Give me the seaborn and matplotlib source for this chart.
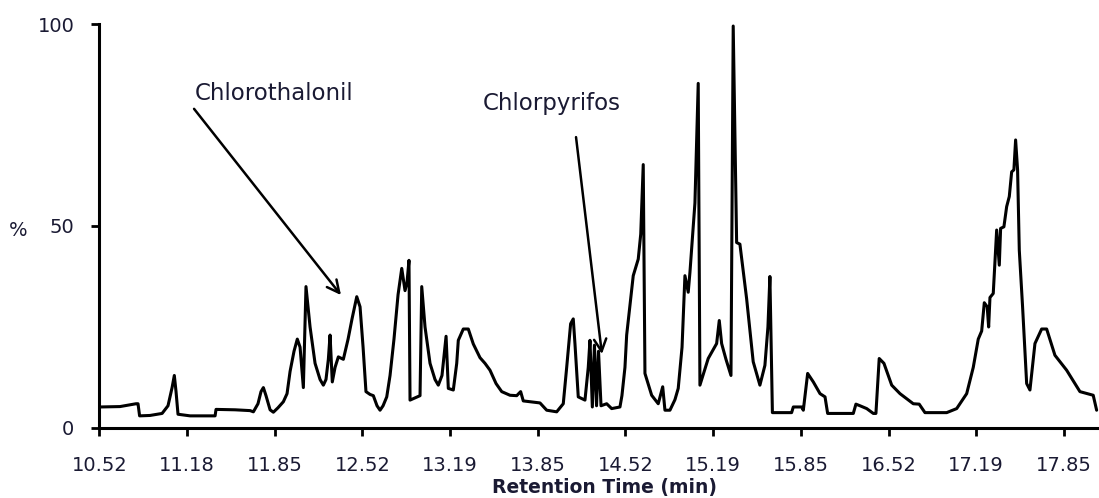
import matplotlib
matplotlib.use('Agg')
import matplotlib.pyplot as plt
import seaborn as sns
import pandas as pd

retention_time = [
    10.525, 10.677, 10.799, 10.814, 10.826, 10.905, 10.997, 11.042, 11.073, 11.090,
    11.103, 11.118, 11.210, 11.400, 11.407, 11.552, 11.666, 11.691, 11.726, 11.749,
    11.767, 11.787, 11.818, 11.843, 11.878, 11.919, 11.947, 11.970, 12.000, 12.025,
    12.046, 12.071, 12.091, 12.122, 12.160, 12.198, 12.223, 12.243, 12.261, 12.274,
    12.281, 12.291, 12.312, 12.337, 12.375, 12.411, 12.441, 12.477, 12.502, 12.525,
    12.547, 12.578, 12.603, 12.631, 12.654, 12.677, 12.705, 12.730, 12.760, 12.791,
    12.819, 12.844, 12.859, 12.874, 12.882, 12.958, 12.971, 12.996, 13.034, 13.072,
    13.097, 13.125, 13.156, 13.173, 13.211, 13.237, 13.249, 13.287, 13.325, 13.363,
    13.414, 13.452, 13.490, 13.536, 13.579, 13.642, 13.693, 13.723, 13.743, 13.870,
    13.921, 13.997, 14.047, 14.073, 14.103, 14.123, 14.136, 14.161, 14.212, 14.237,
    14.250, 14.268, 14.284, 14.300, 14.315, 14.334, 14.377, 14.415, 14.478, 14.493,
    14.516, 14.529, 14.567, 14.579, 14.617, 14.636, 14.655, 14.668, 14.719, 14.769,
    14.803, 14.820, 14.858, 14.896, 14.921, 14.950, 14.972, 14.997, 15.010, 15.048,
    15.073, 15.086, 15.149, 15.213, 15.233, 15.251, 15.284, 15.322, 15.339, 15.365,
    15.390, 15.441, 15.491, 15.542, 15.580, 15.603, 15.618, 15.637, 15.783, 15.796,
    15.859, 15.872, 15.905, 15.948, 15.999, 16.037, 16.057, 16.252, 16.272, 16.303,
    16.354, 16.404, 16.424, 16.449, 16.485, 16.544, 16.607, 16.708, 16.753, 16.797,
    16.962, 17.038, 17.114, 17.164, 17.202, 17.228, 17.248, 17.270, 17.281, 17.291,
    17.316, 17.342, 17.362, 17.372, 17.397, 17.418, 17.438, 17.456, 17.473, 17.486,
    17.501, 17.514, 17.539, 17.570, 17.595, 17.633, 17.684, 17.722, 17.785, 17.874,
    17.975, 18.076, 18.102,
]
abundance = [
    5.2, 5.3, 6.0, 6.0, 3.0, 3.1, 3.6, 5.5, 10.0, 13.0,
    9.0, 3.4, 3.0, 3.0, 4.6, 4.5, 4.3, 4.0, 6.0, 9.0,
    10.0, 8.0, 4.5, 3.9, 5.0, 6.5, 8.5, 14.0, 19.0, 22.0,
    20.0, 10.0, 35.0, 25.0, 16.0, 12.0, 10.6, 12.0, 17.0, 23.0,
    18.0, 11.4, 15.0, 17.6, 17.0, 22.0, 27.0, 32.5, 30.0, 20.0,
    9.0, 8.3, 8.0, 5.5, 4.4, 5.5, 7.7, 13.0, 22.0, 33.0,
    39.5, 34.0, 36.0, 41.5, 6.9, 8.0, 35.0, 25.0, 16.0, 12.0,
    10.6, 13.0, 22.7, 9.8, 9.4, 16.0, 21.7, 24.5, 24.5, 20.8,
    17.4, 16.0, 14.3, 11.0, 9.0, 8.1, 8.0, 9.0, 6.7, 6.2,
    4.4, 4.0, 6.0, 15.0, 25.8, 27.0, 20.8, 7.7, 6.9, 15.0,
    21.7, 5.2, 20.5, 5.5, 19.0, 5.5, 6.0, 4.8, 5.2, 8.0,
    15.0, 23.0, 34.0, 37.7, 41.8, 48.0, 65.2, 13.5, 8.1, 6.0,
    10.2, 4.4, 4.4, 7.0, 9.8, 20.0, 37.7, 33.6, 38.5, 55.7,
    85.3, 10.6, 17.2, 20.9, 26.6, 20.9, 17.0, 13.0, 99.5, 45.9,
    45.5, 32.0, 16.4, 10.6, 15.5, 25.0, 37.5, 3.8, 3.8, 5.2,
    5.2, 4.4, 13.5, 11.4, 8.5, 7.7, 3.6, 3.6, 5.9, 5.5,
    4.8, 3.6, 3.6, 17.2, 16.0, 10.6, 8.5, 6.0, 5.9, 3.8,
    3.8, 4.8, 8.5, 15.0, 22.0, 24.0, 31.0, 30.0, 25.0, 32.3,
    33.3, 49.0, 40.3, 49.4, 49.8, 54.8, 57.3, 63.4, 63.9, 71.3,
    63.9, 44.0, 30.0, 11.0, 9.4, 20.9, 24.5, 24.5, 18.0, 14.3,
    9.0, 8.1, 4.4,
]

tick_times = [10.52 + k * 2 / 3 for k in range(12)]
tick_labels = ['10.52', '11.18', '11.85', '12.52', '13.19', '13.85',
               '14.52', '15.19', '15.85', '16.52', '17.19', '17.85']

df = pd.DataFrame({'Tempo': retention_time, 'Abundancia': abundance})

sns.set_style('ticks')
plt.rcParams['font.family'] = ['DejaVu Sans']
cor_texto = '#1a1a33'

fig = plt.figure(figsize=(10.99, 4.98), dpi=100)
ax = fig.add_axes([0.0904, 0.1406, 0.9096, 0.8112])

sns.lineplot(data=df, x='Tempo', y='Abundancia', sort=False, estimator=None,
             color='black', linewidth=2.2, ax=ax)
ax.lines[0].set_solid_joinstyle('round')

ax.set_xlim(10.52, 18.12)
ax.set_ylim(0, 100)
ax.set_xticks(tick_times)
ax.set_xticklabels(tick_labels)
ax.set_yticks([0, 50, 100])

sns.despine(ax=ax)
for lado in ['left', 'bottom']:
    ax.spines[lado].set_linewidth(2.2)
    ax.spines[lado].set_color('black')
ax.tick_params(axis='both', direction='out', length=6, width=2, color='black',
               labelsize=14, labelcolor=cor_texto)
ax.tick_params(axis='x', pad=14)
ax.tick_params(axis='y', pad=12)

ax.set_xlabel('Retention Time (min)', fontsize=13.5, fontweight='bold', color=cor_texto)
ax.xaxis.set_label_coords(0.505, -0.124)
ax.set_ylabel('%', fontsize=14, rotation=0, color=cor_texto, va='center', ha='center')
ax.yaxis.set_label_coords(-0.0813, 0.49)

# Anotações dos compostos
ax.text(11.249, 82.9, 'Chlorothalonil', fontsize=16.5, color=cor_texto, va='center', ha='left')
ax.annotate('', xy=(12.357, 32.9), xytext=(11.240, 79.0),
            arrowprops=dict(arrowstyle='->', lw=1.8, color='black', mutation_scale=22,
                            shrinkA=0, shrinkB=0))

ax.text(13.437, 80.4, 'Chlorpyrifos', fontsize=16.5, color=cor_texto, va='center', ha='left')
ax.annotate('', xy=(14.341, 18.3), xytext=(14.144, 72.0),
            arrowprops=dict(arrowstyle='->', lw=1.8, color='black', mutation_scale=22,
                            shrinkA=0, shrinkB=0))

ax.grid(False)
plt.savefig('out.png', dpi=100)
